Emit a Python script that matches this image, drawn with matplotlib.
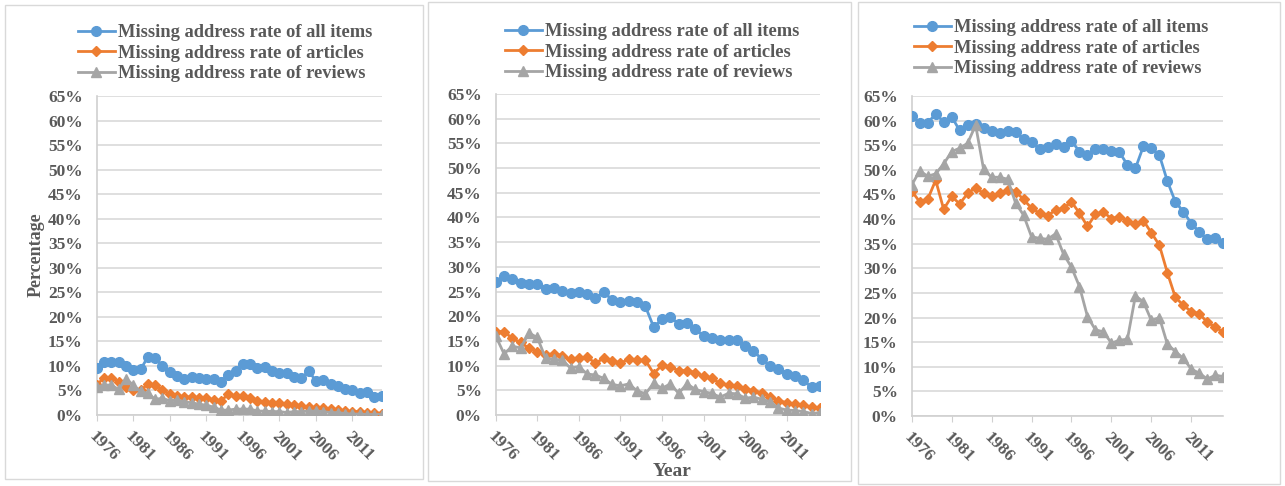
import matplotlib
matplotlib.use("Agg")
import matplotlib.pyplot as plt
from matplotlib.ticker import FuncFormatter, MultipleLocator
from matplotlib.patches import Rectangle

years = list(range(1976, 2016))

# Panel 1
p1_all = [9.5, 10.9, 10.7, 10.7, 9.9, 9.2, 9.3, 11.8, 11.6, 10.0,
          8.7, 8.0, 7.4, 7.7, 7.6, 7.4, 7.3, 6.8, 8.2, 8.9,
          10.4, 10.4, 9.5, 9.7, 9.0, 8.5, 8.5, 7.7, 7.5, 8.9,
          7.0, 7.2, 6.3, 5.9, 5.2, 5.0, 4.4, 4.6, 3.7, 3.9]
p1_articles = [6.1, 7.6, 7.5, 6.8, 5.7, 5.0, 5.0, 6.3, 6.1, 5.1,
               4.2, 3.9, 3.6, 3.7, 3.5, 3.4, 3.1, 2.9, 4.2, 3.9,
               3.9, 3.4, 2.9, 2.7, 2.5, 2.4, 2.2, 2.0, 1.8, 1.6,
               1.4, 1.4, 1.2, 1.0, 0.8, 0.7, 0.7, 0.5, 0.5, 0.3]
p1_reviews = [5.7, 6.1, 6.1, 5.2, 7.4, 6.1, 4.8, 4.4, 3.2, 3.4,
              2.9, 3.1, 2.7, 2.5, 2.2, 2.0, 1.6, 1.0, 1.0, 1.2,
              1.2, 1.2, 0.8, 0.8, 0.7, 0.7, 0.5, 0.7, 0.7, 0.8,
              0.8, 0.7, 0.5, 0.5, 0.3, 0.2, 0.2, 0.1, 0.1, 0.1]

# Panel 2
p2_all = [27.0, 28.2, 27.5, 26.8, 26.5, 26.6, 25.5, 25.7, 25.1, 24.7,
          24.9, 24.5, 23.6, 24.9, 23.3, 22.8, 23.1, 22.8, 22.0, 17.8,
          19.4, 19.9, 18.4, 18.6, 17.4, 16.0, 15.5, 15.1, 15.1, 15.1,
          13.9, 13.0, 11.3, 9.9, 9.4, 8.3, 7.8, 7.0, 5.6, 5.9]
p2_articles = [16.9, 16.9, 15.5, 14.7, 13.5, 12.8, 12.2, 12.4, 12.0, 11.3,
               11.6, 11.7, 10.5, 11.5, 11.0, 10.5, 11.3, 11.1, 11.1, 8.4,
               10.1, 9.7, 9.0, 9.0, 8.6, 7.9, 7.4, 6.4, 6.1, 5.9,
               5.3, 4.9, 4.5, 3.7, 2.9, 2.5, 2.2, 2.0, 1.6, 1.4]
p2_reviews = [16.0, 12.4, 13.9, 13.6, 16.6, 15.7, 11.5, 11.3, 11.1, 9.5,
              9.8, 8.3, 8.1, 7.4, 6.2, 5.9, 6.3, 4.9, 4.3, 6.4,
              5.4, 6.3, 4.4, 6.3, 5.2, 4.7, 4.4, 3.6, 4.4, 4.3,
              3.4, 3.6, 3.2, 2.7, 1.4, 1.0, 0.9, 0.7, 0.3, 0.5]

# Panel 3
p3_all = [61.0, 59.6, 59.6, 61.3, 59.8, 60.8, 58.0, 59.1, 59.4, 58.6,
          57.9, 57.5, 57.8, 57.6, 56.2, 55.6, 54.2, 54.6, 55.2, 54.6,
          55.9, 53.7, 53.0, 54.2, 54.2, 53.9, 53.6, 51.0, 50.3, 54.8,
          54.4, 53.0, 47.7, 43.5, 41.5, 39.1, 37.4, 35.9, 36.1, 35.1]
p3_articles = [45.7, 43.5, 44.0, 47.9, 42.0, 44.6, 43.1, 45.2, 46.4, 45.2,
               44.6, 45.2, 45.9, 45.6, 44.0, 42.2, 41.2, 40.7, 41.8, 42.2,
               43.5, 41.2, 38.5, 41.0, 41.4, 40.1, 40.5, 39.7, 39.0, 39.7,
               37.2, 34.7, 29.1, 24.1, 22.5, 21.2, 20.8, 19.0, 18.1, 17.0]
p3_reviews = [46.9, 49.8, 48.7, 49.2, 51.2, 53.7, 54.4, 55.4, 59.1, 50.1,
              48.5, 48.5, 48.1, 43.3, 40.8, 36.4, 36.1, 35.9, 37.0, 32.9,
              30.2, 26.3, 20.2, 17.5, 17.1, 14.8, 15.4, 15.6, 24.4, 23.2,
              19.4, 20.0, 14.6, 13.1, 11.7, 9.5, 8.7, 7.5, 8.3, 8.0]

labels = ["Missing address rate of all items",
          "Missing address rate of articles",
          "Missing address rate of reviews"]
tick_years = [1976, 1981, 1986, 1991, 1996, 2001, 2006, 2011]

colors = ["#5B9BD5", "#ED7D31", "#A5A5A5"]
markers = ["o", "D", "^"]
msizes = [7.0, 4.8, 6.5]
txt_color = "#595959"
grid_color = "#D9D9D9"
serif = ["Liberation Serif", "DejaVu Serif"]

W, H = 1285, 486
fig = plt.figure(figsize=(W / 100, H / 100), dpi=100)

def fx(px):
    return px / W

def fy(py):
    return 1 - py / H

# panel borders
for (x0, y0, x1, y1) in [(5, 5, 423, 479), (428, 2, 851, 481), (858, 2, 1280, 484)]:
    fig.patches.append(Rectangle((fx(x0), fy(y1)), fx(x1) - fx(x0), fy(y0) - fy(y1),
                                 transform=fig.transFigure, fill=False,
                                 edgecolor="#D9D9D9", linewidth=1.0))

panels = [
    ((96.7, 96, 381.7, 415), (p1_all, p1_articles, p1_reviews), (78, 24)),
    ((495.7, 94, 820, 415), (p2_all, p2_articles, p2_reviews), (505, 23)),
    ((911.7, 96, 1223.3, 416), (p3_all, p3_articles, p3_reviews), (914, 19)),
]

for (x0, y0, x1, y1), series, (lx, ly) in panels:
    ax = fig.add_axes([fx(x0), fy(y1), fx(x1) - fx(x0), fy(y0) - fy(y1)])
    handles = []
    for vals, c, m, ms, lab in zip(series, colors, markers, msizes, labels):
        h, = ax.plot(years, vals, color=c, marker=m, markersize=ms,
                     markeredgecolor=c, linewidth=2.0, label=lab, zorder=3)
        handles.append(h)
    ax.set_xlim(years[0], years[-1])
    ax.set_ylim(0, 65)
    ax.yaxis.set_major_locator(MultipleLocator(5))
    ax.yaxis.set_major_formatter(FuncFormatter(lambda v, p: f"{int(round(v))}%"))
    ax.grid(axis="y", color=grid_color, linewidth=1.2, zorder=0)
    ax.set_axisbelow(True)
    for s in ["top", "right"]:
        ax.spines[s].set_visible(False)
    ax.spines["left"].set_color("#D0D0D0")
    ax.spines["bottom"].set_color("#D0D0D0")
    ax.spines["left"].set_linewidth(1.2)
    ax.spines["bottom"].set_linewidth(1.2)
    ax.tick_params(axis="y", length=0, pad=10, labelcolor=txt_color)
    ax.tick_params(axis="x", length=4, color="#D0D0D0", pad=6, labelcolor=txt_color)
    ax.set_xticks(tick_years)
    ax.set_xticklabels([str(t) for t in tick_years])
    for t in ax.get_yticklabels():
        t.set_fontfamily(serif)
        t.set_fontweight("bold")
        t.set_fontsize(12.5)
    for t in ax.get_xticklabels():
        t.set_fontfamily(serif)
        t.set_fontweight("bold")
        t.set_fontsize(12.5)
        t.set_rotation(-45)
        t.set_ha("left")
        t.set_va("top")
        t.set_rotation_mode("anchor")
    leg = fig.legend(handles=handles, loc="upper left",
                     bbox_to_anchor=(fx(lx), fy(ly)), frameon=False,
                     handlelength=2.0, handletextpad=0.15, labelspacing=0.2,
                     borderaxespad=0, borderpad=0,
                     prop={"family": serif, "weight": "bold", "size": 13.3})
    for t in leg.get_texts():
        t.set_color(txt_color)

fig.text(fx(36), fy(255), "Percentage", rotation=90, ha="center", va="center",
         fontfamily=serif, fontweight="bold", fontsize=13, color=txt_color)
fig.text(fx(672), fy(471), "Year", ha="center", va="center",
         fontfamily=serif, fontweight="bold", fontsize=14, color=txt_color)

fig.savefig("out.png", dpi=100, facecolor="white")
